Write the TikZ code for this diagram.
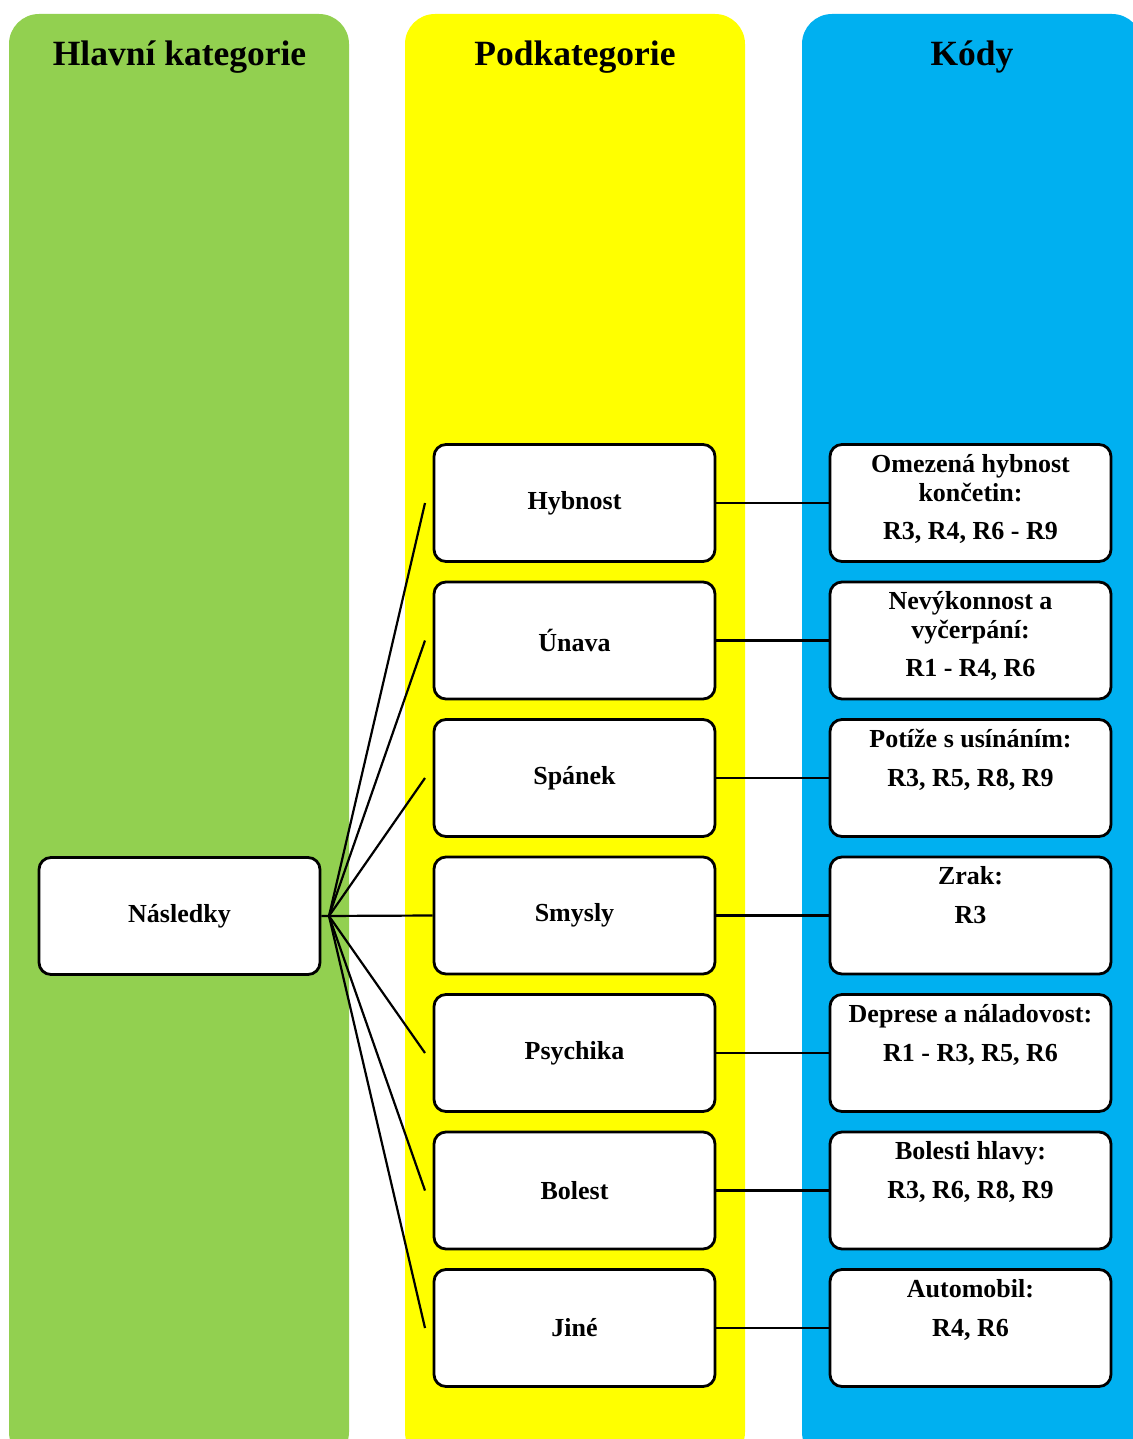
\documentclass[tikz,border=0pt]{standalone}
\usepackage{fontspec}
\setmainfont{Liberation Serif}
\definecolor{colgreen}{HTML}{92D050}
\definecolor{colyellow}{HTML}{FFFF00}
\definecolor{colblue}{HTML}{00B0F0}
\tikzset{
  column/.style={rounded corners=30pt},
  hdr/.style={font=\fontsize{35.5}{40}\selectfont\bfseries, inner sep=0pt, anchor=base},
  box/.style={draw=black, fill=white, line width=2.8pt, rounded corners=12pt,
    minimum width=281pt, minimum height=117pt, inner sep=0pt,
    font=\fontsize{26}{29}\selectfont\bfseries},
  codetxt/.style={text width=276pt, align=flush center, inner sep=0pt, anchor=base,
    font=\fontsize{26}{29}\selectfont\bfseries},
  conn/.style={line width=2.2pt, draw=black}
}
\begin{document}
\begin{tikzpicture}[x=1pt,y=-1pt]
\useasboundingbox (0,0) rectangle (1132,1439);
% columns
\fill[colgreen, column] (9,14) rectangle (349,1462);
\fill[colyellow, column] (405,14) rectangle (745,1462);
\fill[colblue, column] (802,14) rectangle (1142,1462);
% headers
\node[hdr] (h1) at (179.5,66) {Hlavní kategorie};
\node[hdr] (h2) at (575,66) {Podkategorie};
\node[hdr] (h3) at (972,66) {Kódy};
% main
\node[box] (N) at (179.5,916) {Následky};
% subcategories
\foreach \i/\t in {0/Hybnost,1/Únava,2/Spánek,3/Smysly,4/Psychika,5/Bolest,6/Jiné}{
  \node[box] (S\i) at (574.5,{503+137.5*\i}) {\t};
  \node[box] (C\i) at (970.5,{503+137.5*\i}) {};
  \draw[conn] (S\i.east) -- (C\i.west);
}
% code texts
\node[codetxt] (t0) at ([yshift=-29pt]C0.north) {Omezená hybnost\\končetin:\\[9pt]R3, R4, R6 - R9};
\node[codetxt] (t1) at ([yshift=-29pt]C1.north) {Nevýkonnost a\\vyčerpání:\\[9pt]R1 - R4, R6};
\node[codetxt] (t2) at ([yshift=-29pt]C2.north) {Potíže s usínáním:\\[10pt]R3, R5, R8, R9};
\node[codetxt] (t3) at ([yshift=-29pt]C3.north) {Zrak:\\[10pt]R3};
\node[codetxt] (t4) at ([yshift=-29pt]C4.north) {Deprese a náladovost:\\[10pt]R1 - R3, R5, R6};
\node[codetxt] (t5) at ([yshift=-29pt]C5.north) {Bolesti hlavy:\\[10pt]R3, R6, R8, R9};
\node[codetxt] (t6) at ([yshift=-29pt]C6.north) {Automobil:\\[10pt]R4, R6};
% fan
\coordinate (fan) at (329,916);
\draw[conn] (N.east) -- (S3.west);
\foreach \i in {0,1,2,4,5,6}{
  \coordinate (e\i) at (425,{503+137.5*\i});
  \draw[conn] (fan) -- (e\i);
}
\end{tikzpicture}
\end{document}
